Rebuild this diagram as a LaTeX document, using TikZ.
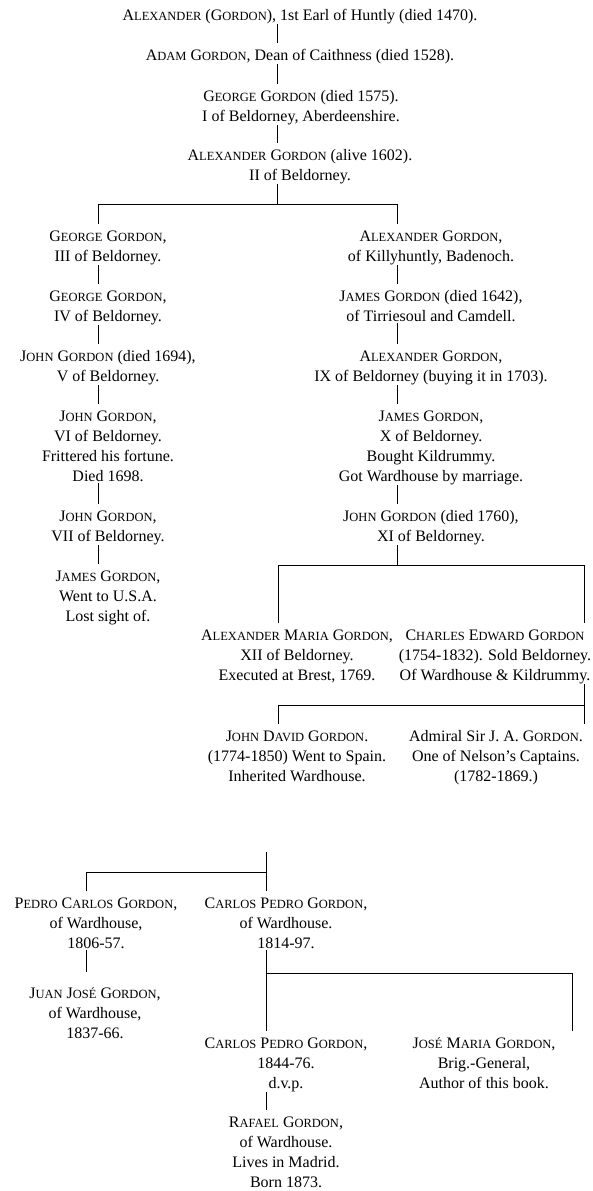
\documentclass[tikz,border=0pt]{standalone}
\usepackage{fontspec}
\setmainfont{Liberation Serif}
\newcommand{\smc}[1]{{\fontsize{12.5}{20}\selectfont #1}}
\newcommand{\lstrut}{\rule[-1.8pt]{0pt}{19pt}}

\begin{document}
\begin{tikzpicture}[x=1pt,y=-1pt,
                    person/.style={anchor=north,align=center,inner sep=0pt,
                      font=\fontsize{16}{20}\selectfont,
                      execute at end node=\lstrut},
                    link/.style={line width=0.9pt}]
                    \useasboundingbox (0,0) rectangle (593,1191);
                    % trunks and bars
                    \coordinate (t0) at (277,0);
                    \coordinate (tl) at (98,0);
                    \coordinate (tr) at (397,0);
                    \coordinate (ta) at (278,0);
                    \coordinate (tb) at (584,0);
                    \coordinate (tc) at (86,0);
                    \coordinate (td) at (266,0);
                    \coordinate (te) at (572,0);
                    \coordinate (bar1) at (0,204);
                    \coordinate (bar2) at (0,565);
                    \coordinate (bar3) at (0,705);
                    \coordinate (bar4) at (0,872);
                    \coordinate (bar5) at (0,973);
                    \coordinate (top) at (266,852);
                    % main line
                    \node[person] (n1) at (300,3) {\lstrut A\smc{LEXANDER} (G\smc{ORDON}), 1st Earl of Huntly (died 1470).};
                    \node[person] (n2) at (300,43) {\lstrut A\smc{DAM} G\smc{ORDON}, Dean of Caithness (died 1528).};
                    \node[person] (n3) at (301,84) {\lstrut G\smc{EORGE} G\smc{ORDON} (died 1575).\\ I of Beldorney, Aberdeenshire.};
                    \node[person] (n4) at (300,143) {\lstrut A\smc{LEXANDER} G\smc{ORDON} (alive 1602).\\ II of Beldorney.};
                    % left branch
                    \node[person] (g3) at (108,224) {\lstrut G\smc{EORGE} G\smc{ORDON},\\ III of Beldorney.};
                    \node[person] (g4) at (108,284) {\lstrut G\smc{EORGE} G\smc{ORDON},\\ IV of Beldorney.};
                    \node[person] (j5) at (108,344) {\lstrut J\smc{OHN} G\smc{ORDON} (died 1694),\\ V of Beldorney.};
                    \node[person] (j6) at (108,404) {\lstrut J\smc{OHN} G\smc{ORDON},\\ VI of Beldorney.\\ Frittered his fortune.\\ Died 1698.};
                    \node[person] (j7) at (108,504) {\lstrut J\smc{OHN} G\smc{ORDON},\\ VII of Beldorney.};
                    \node[person] (j8) at (108,564) {\lstrut J\smc{AMES} G\smc{ORDON},\\ Went to U.S.A.\\ Lost sight of.};
                    % right branch
                    \node[person] (a1) at (431,224) {\lstrut A\smc{LEXANDER} G\smc{ORDON},\\ of Killyhuntly, Badenoch.};
                    \node[person] (ja) at (431,284) {\lstrut J\smc{AMES} G\smc{ORDON} (died 1642),\\ of Tirriesoul and Camdell.};
                    \node[person] (a9) at (431,344) {\lstrut A\smc{LEXANDER} G\smc{ORDON},\\ IX of Beldorney (buying it in 1703).};
                    \node[person] (j10) at (431,404) {\lstrut J\smc{AMES} G\smc{ORDON},\\ X of Beldorney.\\ Bought Kildrummy.\\ Got Wardhouse by marriage.};
                    \node[person] (j11) at (431,504) {\lstrut J\smc{OHN} G\smc{ORDON} (died 1760),\\ XI of Beldorney.};
                    \node[person] (am) at (297,623) {\lstrut A\smc{LEXANDER} M\smc{ARIA} G\smc{ORDON},\\ XII of Beldorney.\\ Executed at Brest, 1769.};
                    \node[person] (ce) at (495,623) {\lstrut C\smc{HARLES} E\smc{DWARD} G\smc{ORDON}\\ (1754-1832). Sold Beldorney.\\ Of Wardhouse \& Kildrummy.};
                    \node[person] (jd) at (297,724) {\lstrut J\smc{OHN} D\smc{AVID} G\smc{ORDON}.\\ (1774-1850) Went to Spain.\\ Inherited Wardhouse.};
                    \node[person] (ad) at (496,724) {\lstrut Admiral Sir J. A. G\smc{ORDON}.\\ One of Nelson's Captains.\\ (1782-1869.)};
                    % Wardhouse
                    \node[person] (pc) at (96,891) {\lstrut P\smc{EDRO} C\smc{ARLOS} G\smc{ORDON},\\ of Wardhouse,\\ 1806-57.};
                    \node[person] (cp) at (286,891) {\lstrut C\smc{ARLOS} P\smc{EDRO} G\smc{ORDON},\\ of Wardhouse.\\ 1814-97.};
                    \node[person] (jj) at (95,981) {\lstrut J\smc{UAN} J\smc{OSÉ} G\smc{ORDON},\\ of Wardhouse,\\ 1837-66.};
                    \node[person] (cp2) at (286,1031) {\lstrut C\smc{ARLOS} P\smc{EDRO} G\smc{ORDON},\\ 1844-76.\\ d.v.p.};
                    \node[person] (jm) at (484,1031) {\lstrut J\smc{OSÉ} M\smc{ARIA} G\smc{ORDON},\\ Brig.-General,\\ Author of this book.};
                    \node[person] (rg) at (286,1110) {\lstrut R\smc{AFAEL} G\smc{ORDON},\\ of Wardhouse.\\ Lives in Madrid.\\ Born 1873.};
                    % links
                    \foreach \a/\b/\t in {n1/n2/t0,n2/n3/t0,n3/n4/t0,g3/g4/tl,g4/j5/tl,j5/j6/tl,j6/j7/tl,j7/j8/tl,a1/ja/tr,ja/a9/tr,a9/j10/tr,j10/j11/tr,cp2/rg/td}{
                    \draw[link] (\a.south -| \t) -- (\b.north -| \t);
                    }
                    \draw[link,shorten >=9pt] (pc.south -| tc) -- (jj.north -| tc);
                    \draw[link] (n4.south -| t0) -- (t0 |- bar1);
                    \draw[link] (g3.north -| tl) -- (tl |- bar1) -- (tr |- bar1) -- (a1.north -| tr);
                    \draw[link] (j11.south -| tr) -- (tr |- bar2);
                    \draw[link] (am.north -| ta) -- (ta |- bar2) -- (tb |- bar2) -- (ce.north -| tb);
                    \draw[link] (ce.south -| tb) -- (tb |- bar3);
                    \draw[link] (jd.north -| ta) -- (ta |- bar3) -- (tb |- bar3) -- (ad.north -| tb);
                    \draw[link] (top) -- (cp.north -| td);
                    \draw[link] (pc.north -| tc) -- (tc |- bar4) -- (td |- bar4);
                    \draw[link] (cp.south -| td) -- (cp2.north -| td);
                    \draw[link] (td |- bar5) -- (te |- bar5) -- (jm.north -| te);
                    \end{tikzpicture}
\end{document}
